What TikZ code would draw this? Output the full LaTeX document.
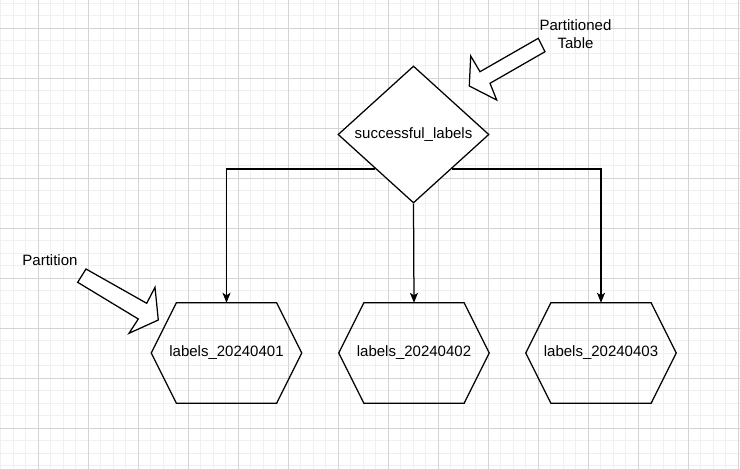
\documentclass[tikz,border=0pt]{standalone}
\usepackage{fontspec}
\setmainfont{Liberation Sans}
\usetikzlibrary{shapes.geometric,arrows.meta,calc}
\definecolor{gridminor}{HTML}{F0F0F0}
\definecolor{gridmajor}{HTML}{D4D4D4}
\begin{document}
\begin{tikzpicture}[x=1pt,y=-1pt,
  txt/.style={font=\fontsize{15}{18}\selectfont},
  box/.style={txt,draw=none,minimum width=150pt,minimum height=100pt,inner sep=0pt},
  shapeline/.style={draw=black,line width=1.25pt,fill=white,line join=miter},
  arr/.style={draw=black,line width=1.25pt,-{Stealth[length=10pt,width=8pt,inset=2.5pt]}},
  blockarrow/.style={draw=black,line width=1.25pt,fill=white,line join=miter}]
  % canvas and grid
  \useasboundingbox (0,0) rectangle (740,469);
  \fill[white] (0,0) rectangle (740,469);
  \foreach \i in {0,...,59} {
    \draw[gridminor,line width=1pt] ({0.5+12.5*\i},0) -- ({0.5+12.5*\i},469);
  }
  \foreach \i in {0,...,37} {
    \draw[gridminor,line width=1pt] (0,{3+12.5*\i}) -- (740,{3+12.5*\i});
  }
  \foreach \i in {0,...,14} {
    \draw[gridmajor,line width=1pt] ({38+50*\i},0) -- ({38+50*\i},469);
  }
  \foreach \i in {0,...,9} {
    \draw[gridmajor,line width=1pt] (0,{28+50*\i}) -- (740,{28+50*\i});
  }

  % partitioned table
  \node[diamond,shapeline,txt,minimum width=151pt,minimum height=137pt,inner sep=0pt]
    (d) at (413.5,134.5) {successful\_labels};

  % partitions
  \node[box] (h1) at (226.5,353) {labels\_20240401};
  \node[box] (h2) at (414,353) {labels\_20240402};
  \node[box] (h3) at (601,353) {labels\_20240403};
  \foreach \h in {h1,h2,h3} {
    \draw[shapeline,fill=none]
      ([xshift=25pt]\h.north west) -- ([xshift=-25pt]\h.north east) -- (\h.east)
      -- ([xshift=-25pt]\h.south east) -- ([xshift=25pt]\h.south west) -- (\h.west) -- cycle;
  }

  % connectors
  \draw[arr] (d.south west) -| (h1.north);
  \draw[arr] (d.south) -- (h2.north);
  \draw[arr] (d.south east) -| (h3.north);

  % callouts
  \node[txt,align=center,inner sep=0pt] (lt) at (575.5,34.5) {Partitioned\\Table};
  \node[txt,inner sep=0pt] (lp) at (50,260) {Partition};
  \draw[blockarrow] (469.3,86) -- (470.7,56) -- (480,71.7) -- (538.3,38.3)
    -- (545,51.7) -- (490,83.3) -- (496.7,100) -- cycle;
  \draw[blockarrow] (158.3,320) -- (129,333.3) -- (138.3,319) -- (77.7,282.3)
    -- (86,269) -- (146.7,303.3) -- (155,287.3) -- cycle;
\end{tikzpicture}
\end{document}
